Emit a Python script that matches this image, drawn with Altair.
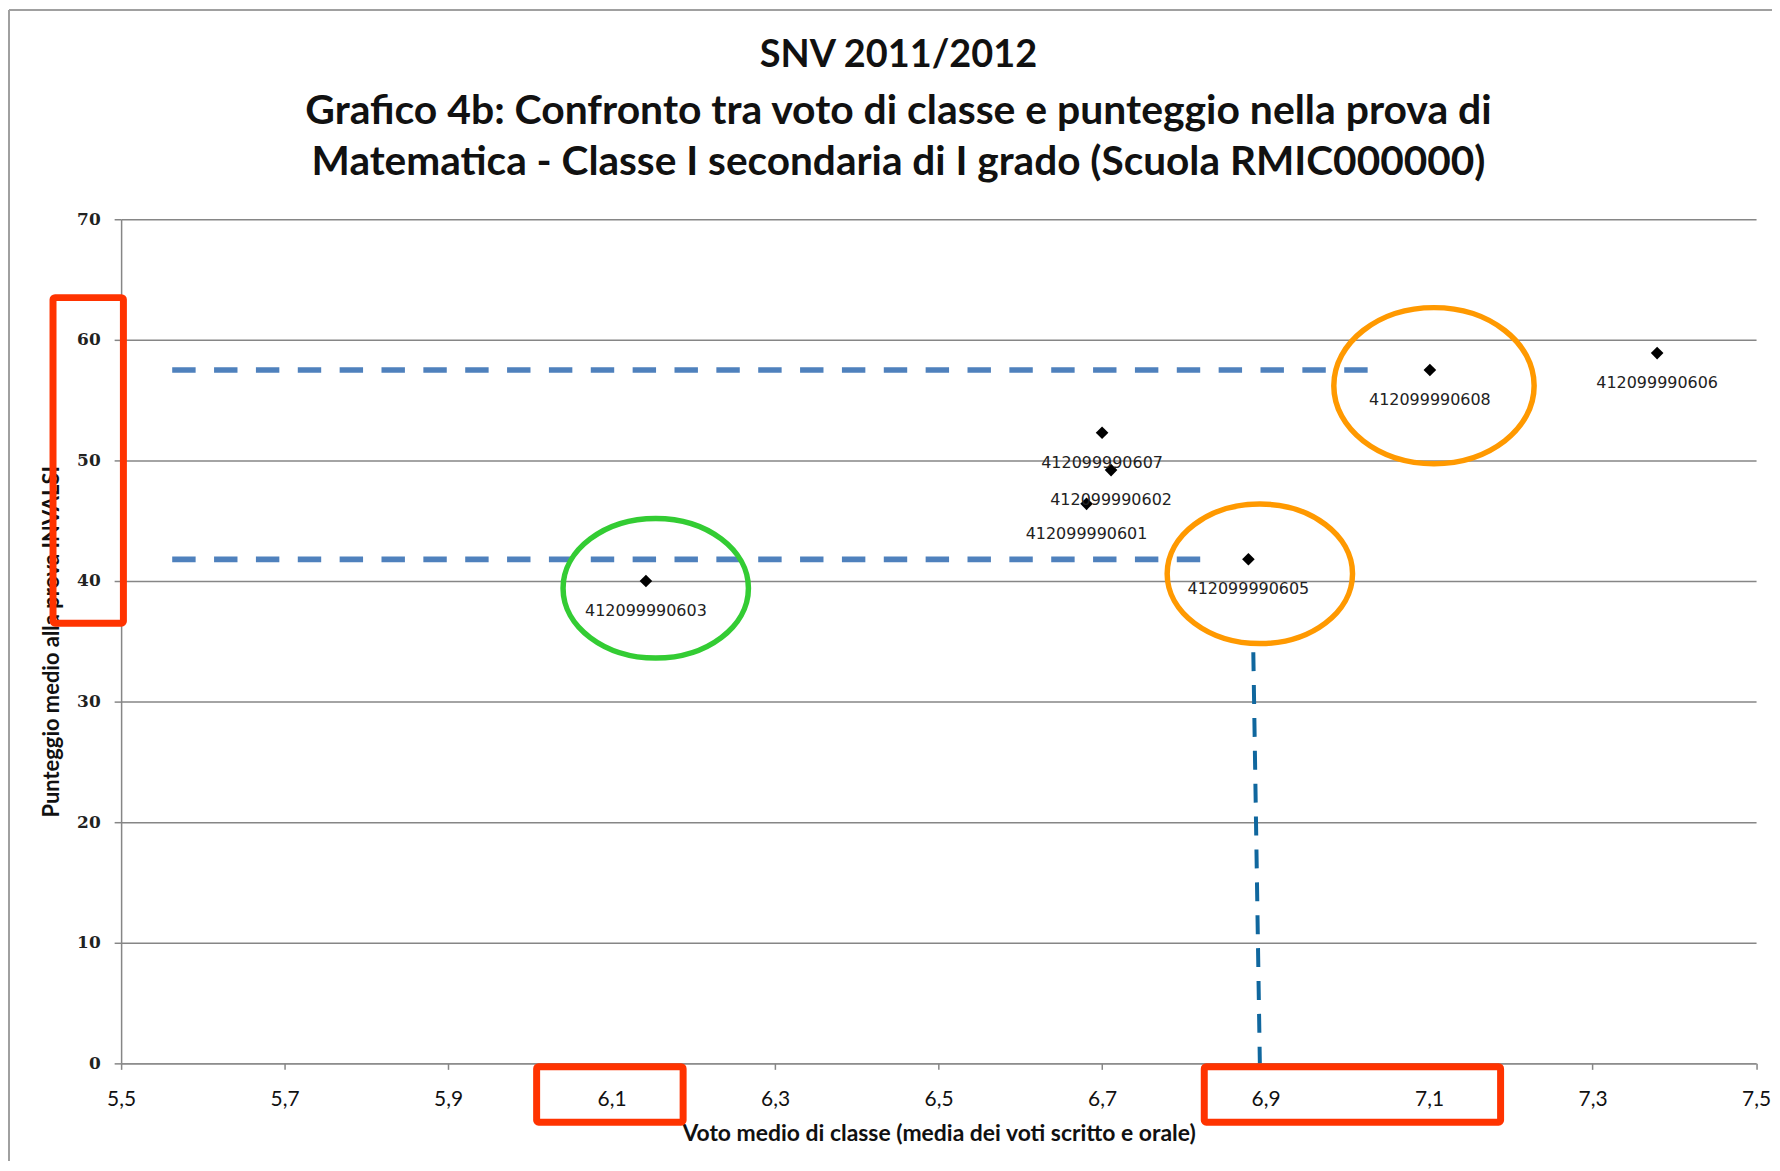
import altair as alt
import pandas as pd

# ---------------- data ----------------
codes = ["412099990603", "412099990601", "412099990607", "412099990602",
         "412099990605", "412099990608", "412099990606"]
voto = [6.142, 6.681, 6.700, 6.711, 6.879, 7.101, 7.379]
punteggio = [40.0, 46.4, 52.3, 49.2, 41.8, 57.5, 58.9]

x_ticks = [5.5, 5.7, 5.9, 6.1, 6.3, 6.5, 6.7, 6.9, 7.1, 7.3, 7.5]
y_ticks = [0, 10, 20, 30, 40, 50, 60, 70]

title_lines = ["SNV 2011/2012",
               "Grafico 4b: Confronto tra voto di classe e punteggio nella prova di",
               "Matematica - Classe I secondaria di I grado (Scuola RMIC000000)"]
x_title = "Voto medio di classe (media dei voti scritto e orale)"
y_title = "Punteggio medio alla prova INVALSI"

# annotation: horizontal dashed guides
hd_y = [57.5, 41.8]
hd_x1 = [5.5625, 5.5625]
hd_x2 = [7.043, 6.824]
# annotation: vertical dashed guide
vd_x1, vd_y1, vd_x2, vd_y2 = [6.885], [34.1], [6.893], [0.0]
# annotation: ellipses (centre in data units)
el_x = [6.154, 6.893, 7.106]
el_y = [39.4, 40.6, 56.2]
el_col = ["#33CC33", "#FF9900", "#FF9900"]
# annotation: red boxes
rb_x1 = [5.4167, 6.0083, 6.825]
rb_x2 = [5.5028, 6.1875, 7.1875]
rb_y1 = [63.5, -0.28, -0.28]
rb_y2 = [36.5, -4.88, -4.88]

# ---------------- layout ----------------
W, H = 1640.5, 847
PL, PT = 113.5, 210

df = pd.DataFrame({"code": codes, "voto": voto, "punteggio": punteggio})

xs = alt.Scale(domain=[5.5, 7.5], nice=False, zero=False)
ys = alt.Scale(domain=[0, 70], nice=False, zero=True)

x_axis = alt.Axis(values=x_ticks, grid=False, title=x_title, labelFlush=False,
                  labelExpr="replace(format(datum.value, '.1f'), '.', ',')",
                  labelFont="Lato", labelFontSize=21, labelColor="#111",
                  labelPadding=19, tickSize=6, tickColor="#868686", tickWidth=1.5,
                  domainColor="#868686", domainWidth=1.5,
                  titleFont="Lato", titleFontSize=23, titleFontWeight="bold",
                  titleColor="#111", titleY=70, titleBaseline="middle")
y_axis = alt.Axis(values=y_ticks, grid=True, gridColor="#868686", gridWidth=1.5,
                  title=y_title, labelFont="DejaVu Serif", labelFontWeight="bold",
                  labelFontSize=17, labelColor="#222", labelPadding=14,
                  labelFlush=False,
                  tickSize=7, tickColor="#868686", tickWidth=1.5,
                  domainColor="#868686", domainWidth=1.5,
                  titleFont="Lato", titleFontSize=22, titleFontWeight="bold",
                  titleColor="#111", titleX=-70, titleY=H / 2, titleAngle=270,
                  titleAlign="center", titleBaseline="middle")

points = alt.Chart(df).mark_point(shape="diamond", filled=True, color="black",
                                  size=160, opacity=1).encode(
    x=alt.X("voto:Q", scale=xs, axis=x_axis),
    y=alt.Y("punteggio:Q", scale=ys, axis=y_axis),
)

labels = alt.Chart(df).mark_text(font="DejaVu Sans", fontSize=16, color="#222",
                                 dy=30, baseline="middle", align="center").encode(
    x="voto:Q", y="punteggio:Q", text="code:N")

hd = pd.DataFrame({"x1": hd_x1, "x2": hd_x2, "y": hd_y})
hlines = alt.Chart(hd).mark_rule(color="#4F81BD", strokeWidth=5.7,
                                 strokeDash=[23.5, 18.5], strokeCap="butt").encode(
    x="x1:Q", x2="x2:Q", y="y:Q")

vd = pd.DataFrame({"x1": vd_x1, "y1": vd_y1, "x2": vd_x2, "y2": vd_y2})
vline = alt.Chart(vd).mark_rule(color="#10679E", strokeWidth=4,
                                strokeDash=[19, 14], strokeCap="butt").encode(
    x="x1:Q", y="y1:Q", x2="x2:Q", y2="y2:Q")

ell_layers = []
ell_shapes = [(93, 70), (93, 70), (100.5, 78.3)]
for cx, cy, col, (rx, ry) in zip(el_x, el_y, el_col, ell_shapes):
    k = ry / rx
    path = f"M -1 0 A 1 {k:.4f} 0 1 1 1 0 A 1 {k:.4f} 0 1 1 -1 0 Z"
    edf = pd.DataFrame({"x": [cx], "y": [cy]})
    ell_layers.append(
        alt.Chart(edf).mark_point(shape=path, filled=False, color=col,
                                  strokeWidth=5.5, size=(2 * rx) ** 2, opacity=1)
        .encode(x="x:Q", y="y:Q")
    )

rb = pd.DataFrame({"x1": rb_x1, "x2": rb_x2, "y1": rb_y1, "y2": rb_y2})
rects = alt.Chart(rb).mark_rect(fillOpacity=0, stroke="#FF3300", strokeWidth=7,
                                cornerRadius=2).encode(
    x="x1:Q", x2="x2:Q", y="y1:Q", y2="y2:Q")

one = pd.DataFrame({"a": [0]})
title_y = [-163.5, -108, -56]
title_sizes = [38, 41, 40.7]
title_layers = [
    alt.Chart(one).mark_text(text=t, font="Lato", fontWeight="bold", fontSize=fs,
                             color="#111", align="center", baseline="middle").encode(
        x=alt.value(780), y=alt.value(ty))
    for t, ty, fs in zip(title_lines, title_y, title_sizes)
]

border_left = alt.Chart(one).mark_rule(color="#A0A0A0", strokeWidth=2).encode(
    x=alt.value(-112.5), y=alt.value(-210), y2=alt.value(945))
border_top = alt.Chart(one).mark_rule(color="#A0A0A0", strokeWidth=2).encode(
    x=alt.value(-112.5), x2=alt.value(1680), y=alt.value(-210))

chart = alt.layer(points, labels, hlines, vline, *ell_layers, rects,
                  *title_layers, border_left, border_top).properties(
    width=W, height=H,
    autosize=alt.AutoSizeParams(type="none"),
    padding={"left": PL, "top": PT, "right": 16, "bottom": 98},
    background="white",
).configure_view(stroke=None)

chart.save("out.html", embed_options={"renderer": "svg", "actions": False})
